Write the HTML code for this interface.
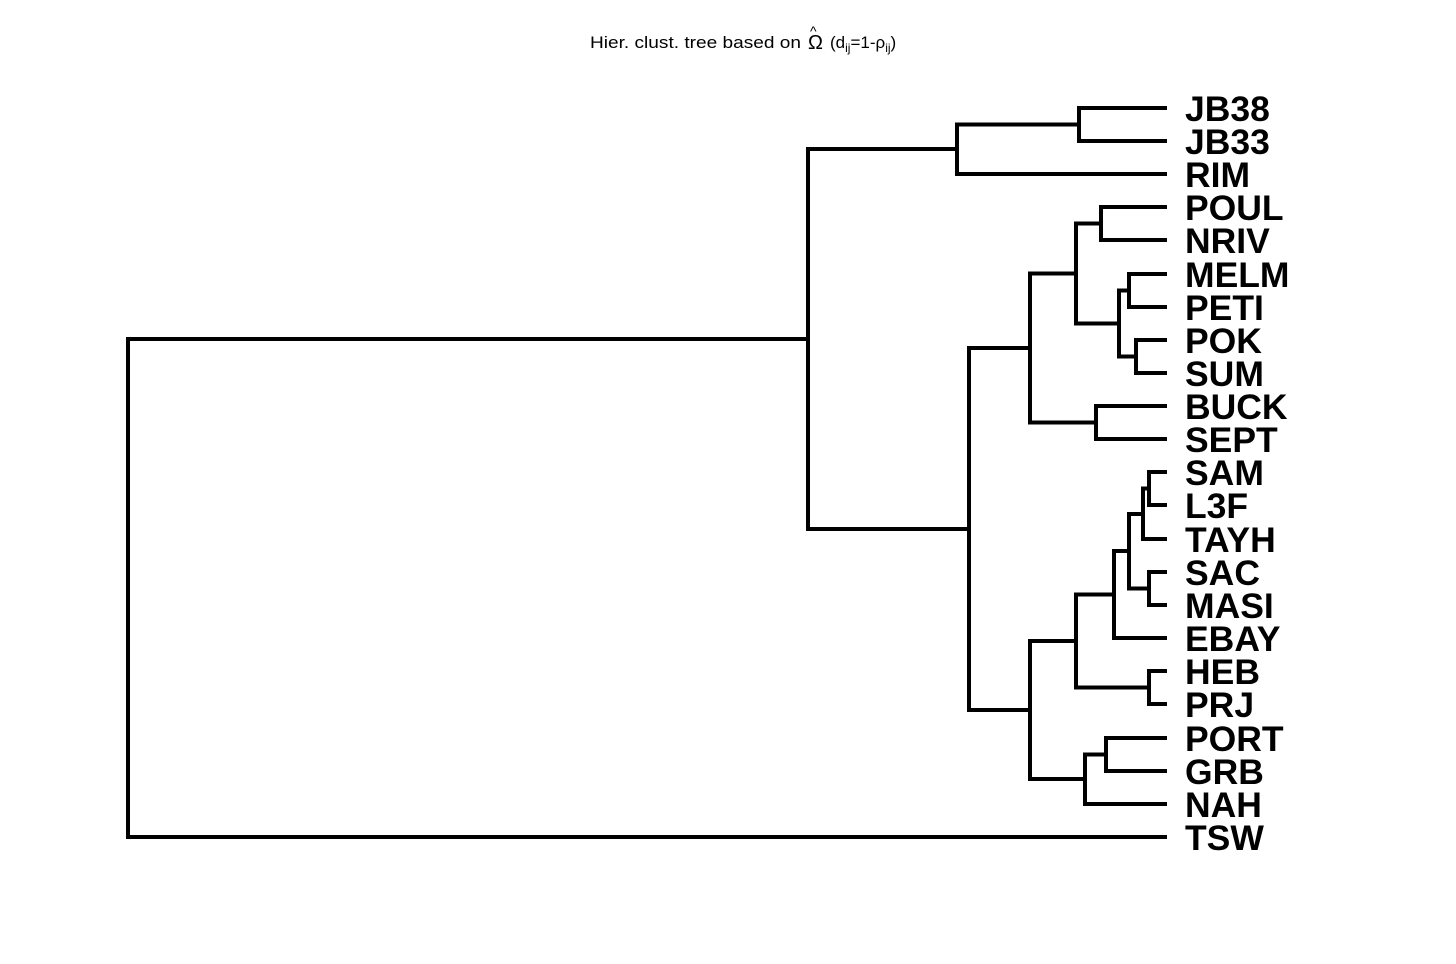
<!DOCTYPE html>
<html><head><style>html,body{margin:0;padding:0;background:#fff}</style></head><body>
<svg width="1456" height="964" xmlns="http://www.w3.org/2000/svg" style="display:block">
<g stroke="#000" stroke-width="4" fill="none" stroke-linecap="square">
<path d="M1165 108H1079V141H1165"/>
<path d="M1079 124.5H957V174H1165"/>
<path d="M1165 207H1101V240H1165"/>
<path d="M1165 274H1129V307H1165"/>
<path d="M1165 340H1136V373H1165"/>
<path d="M1129 290.5H1119V356.5H1136"/>
<path d="M1101 223.5H1076V323.5H1119"/>
<path d="M1165 406H1096V439H1165"/>
<path d="M1076 273.5H1030V422.5H1096"/>
<path d="M1165 472H1149V505H1165"/>
<path d="M1149 488.5H1143V539H1165"/>
<path d="M1165 572H1149V605H1165"/>
<path d="M1143 514H1129V588.5H1149"/>
<path d="M1129 551H1114V638H1165"/>
<path d="M1165 671H1149V704H1165"/>
<path d="M1114 594.5H1076V687.5H1149"/>
<path d="M1165 738H1106V771H1165"/>
<path d="M1106 754.5H1085V804H1165"/>
<path d="M1076 641H1030V779H1085"/>
<path d="M1030 348H969V710H1030"/>
<path d="M957 149H808V529H969"/>
<path d="M808 339H128V837H1165"/>
</g>
<g font-family="Liberation Sans, sans-serif" font-weight="bold" font-size="35.5" fill="#000">
<text x="1185" y="121">JB38</text>
<text x="1185" y="154">JB33</text>
<text x="1185" y="187">RIM</text>
<text x="1185" y="220">POUL</text>
<text x="1185" y="253">NRIV</text>
<text x="1185" y="287">MELM</text>
<text x="1185" y="320">PETI</text>
<text x="1185" y="353">POK</text>
<text x="1185" y="386">SUM</text>
<text x="1185" y="419">BUCK</text>
<text x="1185" y="452">SEPT</text>
<text x="1185" y="485">SAM</text>
<text x="1185" y="518">L3F</text>
<text x="1185" y="552">TAYH</text>
<text x="1185" y="585">SAC</text>
<text x="1185" y="618">MASI</text>
<text x="1185" y="651">EBAY</text>
<text x="1185" y="684">HEB</text>
<text x="1185" y="717">PRJ</text>
<text x="1185" y="751">PORT</text>
<text x="1185" y="784">GRB</text>
<text x="1185" y="817">NAH</text>
<text x="1185" y="850">TSW</text>
</g>
<g font-family="Liberation Sans, sans-serif" font-size="17" fill="#000">
<text x="590" y="48" textLength="211" lengthAdjust="spacingAndGlyphs">Hier. clust. tree based on</text>
<text x="808" y="49" font-size="20">Ω</text>
<text x="810" y="36" font-size="14">^</text>
<text x="830" y="48">(d<tspan font-size="12" dy="4">ij</tspan><tspan dy="-4">=1-ρ</tspan><tspan font-size="12" dy="4">ij</tspan><tspan dy="-4">)</tspan></text>
</g>
</svg>
</body></html>
